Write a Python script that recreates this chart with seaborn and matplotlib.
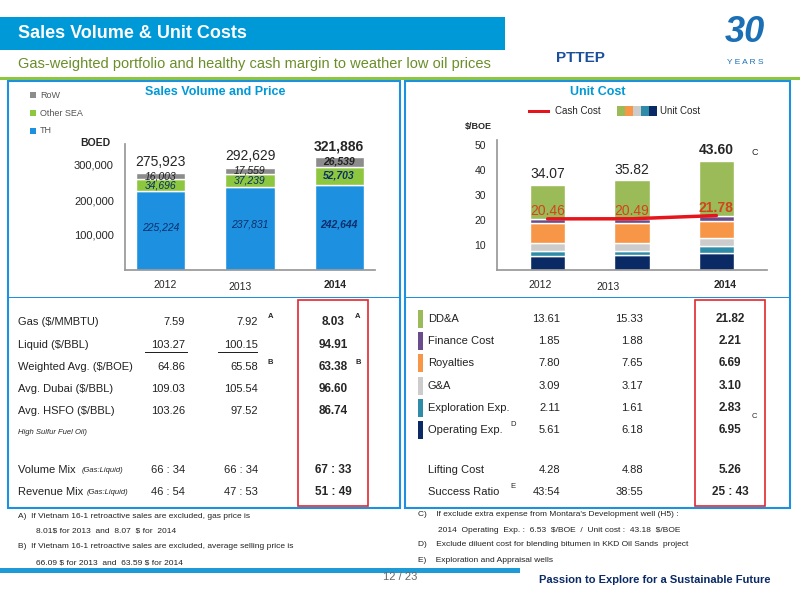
import matplotlib
matplotlib.use("Agg")
import matplotlib.pyplot as plt
import seaborn as sns
import numpy as np
import pandas as pd
from matplotlib.patches import Rectangle

years = ["2012", "2013", "2014"]
th = [225224, 237831, 242644]
other_sea = [34696, 37239, 52703]
row = [16003, 17559, 26539]
totals = [275923, 292629, 321886]

cost_names = ["Operating Exp.", "Exploration Exp.", "G&A", "Royalties", "Finance Cost", "DD&A"]
operating = [5.61, 6.18, 6.95]
exploration = [2.11, 1.61, 2.83]
ga = [3.09, 3.17, 3.10]
royalties = [7.80, 7.65, 6.69]
finance = [1.85, 1.88, 2.21]
dda = [13.61, 15.33, 21.82]
unit_cost = [34.07, 35.82, 43.60]
cash_cost = [20.46, 20.49, 21.78]

sns.set_theme(style="white")
plt.rcParams['font.family'] = ['Liberation Sans', 'DejaVu Sans']
plt.rcParams['text.parse_math'] = False

fig = plt.figure(figsize=(8, 6), dpi=100)
def fx(x): return x / 800
def fy(y): return 1 - y / 600
def T(x, y, s, **kw):
    fig.text(fx(x), fy(y), s, **kw)
def R(x, y, w, h, **kw):
    fig.add_artist(Rectangle((fx(x), fy(y + h)), w / 800, h / 600, transform=fig.transFigure, **kw))

# header
R(0, 17, 505, 33, color="#0099D8", lw=0)
T(18, 34, "Sales Volume & Unit Costs", color="white", fontsize=13, fontweight="bold", va="center")
T(18, 64, "Gas-weighted portfolio and healthy cash margin to weather low oil prices", color="#6A8E2A", fontsize=10.5, va="center")
R(0, 77, 800, 2.5, color="#8DC63F", lw=0)
T(580, 58, "PTTEP", color="#1B4F9C", fontsize=11, fontweight="bold", ha="center", va="center")
T(745, 32, "30", color="#1B6FB5", fontsize=26, fontweight="bold", ha="center", va="center", style="italic")
T(745, 62, "Y E A R S", color="#1B6FB5", fontsize=6, ha="center", va="center")
# panels
R(8, 81, 392, 427, fill=False, ec="#1E90E0", lw=1.5)
R(405, 81, 385, 427, fill=False, ec="#1E90E0", lw=1.5)
R(8, 297, 392, 1, color="#1E90E0", lw=0)
R(405, 297, 385, 1, color="#1E90E0", lw=0)
R(298, 300, 70, 206, fill=False, ec="#E0282E", lw=1.2)
R(695, 300, 70, 206, fill=False, ec="#E0282E", lw=1.2)

# left chart
ax = fig.add_axes([fx(125), fy(270), 250 / 800, 126 / 600])
df = pd.DataFrame({"year": years, "TH": th, "Other SEA": other_sea, "RoW": row})
sns.barplot(data=df, x="year", y="TH", color="#1E90E0", ax=ax, width=0.55, saturation=1)
bottoms = np.array(th)
ax.bar(years, other_sea, bottom=bottoms, color="#8DC63F", width=0.55)
bottoms = bottoms + np.array(other_sea)
ax.bar(years, row, bottom=bottoms, color="#8C8C8C", width=0.55)
ax.set_ylim(0, 360000)
ax.set_yticks([100000, 200000, 300000])
ax.set_yticklabels(["100,000", "200,000", "300,000"], fontsize=8)
ax.set_xticks([])
ax.set_xlabel(""); ax.set_ylabel("")
for s in ["top", "right"]: ax.spines[s].set_visible(False)
ax.spines["left"].set_color("#999"); ax.spines["bottom"].set_color("#999")
ax.tick_params(left=False, pad=2)
for i in range(3):
    b = i == 2
    fw = "bold" if b else "normal"
    ax.text(i, th[i] / 2 + 10000, f"{th[i]:,}", ha="center", va="center", fontsize=7.5, color="#0A2F6B", fontweight=fw, style="italic")
    ax.text(i, th[i] + other_sea[i] / 2, f"{other_sea[i]:,}", ha="center", va="center", fontsize=7.5, color="#0A2F6B", fontweight=fw, style="italic")
    ax.text(i, th[i] + other_sea[i] + row[i] / 2, f"{row[i]:,}", ha="center", va="center", fontsize=7.5, color="#222", fontweight=fw, style="italic")
    ax.text(i, totals[i] + 12000, f"{totals[i]:,}", ha="center", va="bottom", fontsize=10, fontweight=fw)
for i, (x, y) in enumerate([(165, 285), (240, 287), (335, 285)]):
    T(x, y, years[i], fontsize=7.5, ha="center", va="center", fontweight="bold" if i == 2 else "normal")
T(80, 143, "BOED", fontsize=7.5, fontweight="bold", va="center")
for y, lab, c in [(95, "RoW", "#8C8C8C"), (113, "Other SEA", "#8DC63F"), (131, "TH", "#1E90E0")]:
    R(30, y - 3, 6, 6, color=c, lw=0)
    T(40, y, lab, fontsize=6.5, color="#555", va="center")
T(215, 92, "Sales Volume and Price", fontsize=9, color="#0099D8", fontweight="bold", ha="center", va="center")

# right chart
ax2 = fig.add_axes([fx(497), fy(270), 270 / 800, 130 / 600])
colors = ["#0A2A66", "#2E8CA8", "#CCCCCC", "#F79646", "#6B4C8A", "#9BBB59"]
segs = [operating, exploration, ga, royalties, finance, dda]
bot = np.zeros(3)
for seg, c, n in zip(segs, colors, cost_names):
    ax2.bar(years, seg, bottom=bot, color=c, width=0.42)
    bot = bot + np.array(seg)
sns.lineplot(x=[0, 1, 2], y=cash_cost, color="#E8141B", lw=2.5, ax=ax2, sort=False, legend=False)
ax2.set_ylim(0, 52)
ax2.set_xlim(-0.6, 2.6)
ax2.set_yticks([10, 20, 30, 40, 50])
ax2.set_yticklabels(["10", "20", "30", "40", "50"], fontsize=7.5)
ax2.set_xticks([])
for s in ["top", "right"]: ax2.spines[s].set_visible(False)
ax2.spines["left"].set_color("#999"); ax2.spines["bottom"].set_color("#999")
ax2.tick_params(left=False, pad=2)
for i in range(3):
    b = i == 2
    fw = "bold" if b else "normal"
    ax2.text(i, unit_cost[i] + 1.5, f"{unit_cost[i]:.2f}", ha="center", va="bottom", fontsize=10, fontweight=fw)
    ax2.text(i, cash_cost[i] + 0.3, f"{cash_cost[i]:.2f}", ha="center", va="bottom", fontsize=10, fontweight=fw, color="#D2441A")
ax2.text(2.42, unit_cost[2] + 2.5, "C", fontsize=6.5)
for i, (x, y) in enumerate([(540, 285), (608, 287), (725, 285)]):
    T(x, y, years[i], fontsize=7.5, ha="center", va="center", fontweight="bold" if i == 2 else "normal")
T(598, 92, "Unit Cost", fontsize=9, color="#0099D8", fontweight="bold", ha="center", va="center")
T(465, 126, "$/BOE", fontsize=6.5, fontweight="bold", va="center")
R(528, 110, 22, 3, color="#E8141B", lw=0)
T(555, 111, "Cash Cost", fontsize=7, va="center")
for k, c in enumerate(["#9BBB59", "#F79646", "#CCCCCC", "#2E8CA8", "#0A2A66"]):
    R(617 + k * 8, 106, 8, 10, color=c, lw=0)
T(660, 111, "Unit Cost", fontsize=7, va="center")

# left table
lrows = [
    (322, "Gas ($/MMBTU)", "7.59", "7.92", "8.03", "A"),
    (345, "Liquid ($/BBL)", "103.27", "100.15", "94.91", ""),
    (367, "Weighted Avg. ($/BOE)", "64.86", "65.58", "63.38", "B"),
    (389, "Avg. Dubai ($/BBL)", "109.03", "105.54", "96.60", ""),
    (411, "Avg. HSFO ($/BBL)", "103.26", "97.52", "86.74", ""),
    (470, "Volume Mix", "66 : 34", "66 : 34", "67 : 33", ""),
    (492, "Revenue Mix", "46 : 54", "47 : 53", "51 : 49", ""),
]
for y, lab, a, b, c, note in lrows:
    T(18, y, lab, fontsize=8, va="center", color="#222")
    T(185, y, a, fontsize=8, va="center", ha="right", color="#222")
    T(258, y, b, fontsize=8, va="center", ha="right", color="#222")
    T(333, y, c, fontsize=8.5, va="center", ha="center", fontweight="bold")
    if note:
        T(268, y - 5, note, fontsize=5.5, va="center", fontweight="bold")
        T(355, y - 5, note, fontsize=5.5, va="center", fontweight="bold")
T(82, 470, "(Gas:Liquid)", fontsize=5.5, va="center", style="italic")
T(87, 492, "(Gas:Liquid)", fontsize=5.5, va="center", style="italic")
T(18, 433, "High Sulfur Fuel Oil)", fontsize=5.5, va="center", style="italic")
for x0, x1, y in [(145, 188, 352), (218, 258, 352)]:
    R(x0, y, x1 - x0, 0.8, color="#222", lw=0)

# right table
rrows = [
    (319, "DD&A", "13.61", "15.33", "21.82", "#9BBB59"),
    (341, "Finance Cost", "1.85", "1.88", "2.21", "#6B4C8A"),
    (363, "Royalties", "7.80", "7.65", "6.69", "#F79646"),
    (386, "G&A", "3.09", "3.17", "3.10", "#CCCCCC"),
    (408, "Exploration Exp.", "2.11", "1.61", "2.83", "#2E8CA8"),
    (430, "Operating Exp.", "5.61", "6.18", "6.95", "#0A2A66"),
    (470, "Lifting Cost", "4.28", "4.88", "5.26", None),
    (492, "Success Ratio", "43:54", "38:55", "25 : 43", None),
]
for y, lab, a, b, c, col in rrows:
    if col:
        R(418, y - 9, 5, 18, color=col, lw=0)
    T(428, y, lab, fontsize=8, va="center", color="#222")
    T(560, y, a, fontsize=8, va="center", ha="right", color="#222")
    T(643, y, b, fontsize=8, va="center", ha="right", color="#222")
    T(730, y, c, fontsize=8.5, va="center", ha="center", fontweight="bold")
T(510, 424, "D", fontsize=5.5, va="center")
T(752, 416, "C", fontsize=5.5, va="center")
T(510, 487, "E", fontsize=5.5, va="center")

# footnotes
fn = [(18, 516, "A)  If Vietnam 16-1 retroactive sales are excluded, gas price is"),
      (36, 531, "8.01$ for 2013  and  8.07  $ for  2014"),
      (18, 547, "B)  If Vietnam 16-1 retroactive sales are excluded, average selling price is"),
      (36, 563, "66.09 $ for 2013  and  63.59 $ for 2014"),
      (418, 514, "C)    If exclude extra expense from Montara's Development well (H5) :"),
      (438, 530, "2014  Operating  Exp. :  6.53  $/BOE  /  Unit cost :  43.18  $/BOE"),
      (418, 544, "D)    Exclude diluent cost for blending bitumen in KKD Oil Sands  project"),
      (418, 560, "E)    Exploration and Appraisal wells")]
for x, y, s in fn:
    T(x, y, s, fontsize=6, va="center", color="#222")
R(0, 568, 520, 5, color="#1E9BD7", lw=0)
T(400, 577, "12 / 23", fontsize=8, ha="center", va="center", color="#666")
T(655, 580, "Passion to Explore for a Sustainable Future", fontsize=8, ha="center", va="center", color="#0A2A66", fontweight="bold")

fig.savefig("out.png", dpi=100)
